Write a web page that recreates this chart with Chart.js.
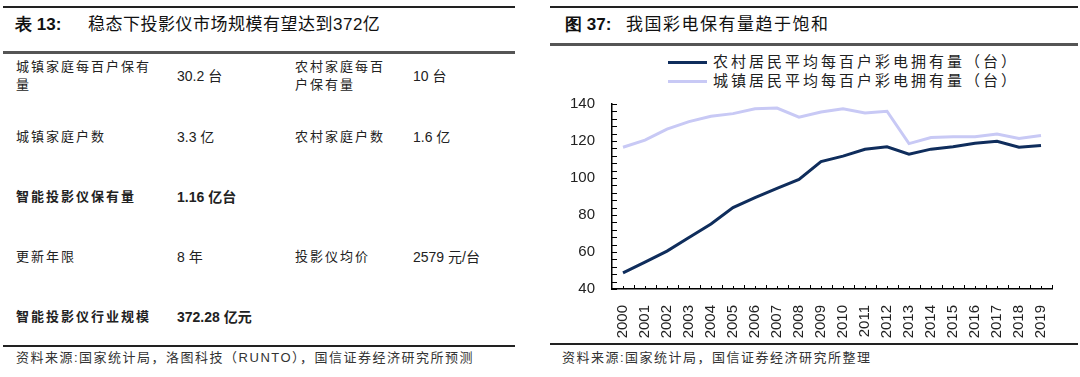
<!DOCTYPE html>
<html>
<head>
<meta charset="utf-8">
<script src="https://cdn.jsdelivr.net/npm/chart.js@4.4.1/dist/chart.umd.min.js"></script>
<style>
  html, body { margin: 0; padding: 0; background: #fff; }
  body { width: 1080px; height: 377px; position: relative; overflow: hidden;
         font-family: "Liberation Sans", Arial, "Noto Sans CJK SC", sans-serif; color: #222; }
  .abs { position: absolute; white-space: nowrap; }
  .rule { position: absolute; height: 2px; background: #222; }
  .rule.mid { background: #555; height: 3px; }
  .title { font-size: 17px; color: #111; line-height: 20px; }
  .title b { font-family: "Liberation Sans", Arial, sans-serif; font-size: 17px; }
  .cell { font-size: 13px; letter-spacing: 2px; line-height: 18px; }
  .num { font-size: 14px; letter-spacing: 0; line-height: 18px; }
  .bold { font-weight: bold; }
  .src { font-size: 13px; color: #333; letter-spacing: 1.5px; line-height: 16px; }
  .leg { font-size: 15px; letter-spacing: 3px; color: #222; line-height: 18px; }
  .legline { position: absolute; height: 3px; }
  #chart { position: absolute; left: 560px; top: 86px; }
</style>
</head>
<body>
<!-- left panel: table -->
<div class="rule" style="left:3px; top:6px; width:512px;"></div>
<div class="abs title" style="left:15px; top:15px;"><b>表 13:</b></div>
<div class="abs title" style="left:88px; top:15px; letter-spacing:0.5px;">稳态下投影仪市场规模有望达到372亿</div>
<div class="rule mid" style="left:3px; top:51px; width:512px;"></div>

<div class="abs cell" style="left:16px; top:58px;">城镇家庭每百户保有<br>量</div>
<div class="abs num" style="left:177px; top:67px;">30.2 台</div>
<div class="abs cell" style="left:295px; top:58px;">农村家庭每百<br>户保有量</div>
<div class="abs num" style="left:413px; top:67px;">10 台</div>

<div class="abs cell" style="left:16px; top:128px;">城镇家庭户数</div>
<div class="abs num" style="left:177px; top:128px;">3.3 亿</div>
<div class="abs cell" style="left:295px; top:128px;">农村家庭户数</div>
<div class="abs num" style="left:413px; top:128px;">1.6 亿</div>

<div class="abs cell bold" style="left:16px; top:188px;">智能投影仪保有量</div>
<div class="abs num bold" style="left:177px; top:188px;">1.16 亿台</div>

<div class="abs cell" style="left:16px; top:248px;">更新年限</div>
<div class="abs num" style="left:177px; top:248px;">8 年</div>
<div class="abs cell" style="left:295px; top:248px;">投影仪均价</div>
<div class="abs num" style="left:413px; top:248px;">2579 元/台</div>

<div class="abs cell bold" style="left:16px; top:308px;">智能投影仪行业规模</div>
<div class="abs num bold" style="left:177px; top:308px;">372.28 亿元</div>

<div class="rule" style="left:3px; top:345px; width:512px;"></div>
<div class="abs src" style="left:16px; top:350px;">资料来源:国家统计局，洛图科技（RUNTO），国信证券经济研究所预测</div>

<!-- right panel: chart -->
<div class="rule" style="left:550px; top:6px; width:528px;"></div>
<div class="abs title" style="left:565px; top:15px;"><b>图 37:</b></div>
<div class="abs title" style="left:626px; top:15px; letter-spacing:1.5px;">我国彩电保有量趋于饱和</div>
<div class="rule mid" style="left:550px; top:43px; width:528px;"></div>

<div class="legline" style="left:668px; top:61px; width:39px; background:#0f2d5c;"></div>
<div class="abs leg" style="left:713px; top:53px;">农村居民平均每百户彩电拥有量（台）</div>
<div class="legline" style="left:668px; top:80px; width:39px; background:#c8c9f5;"></div>
<div class="abs leg" style="left:713px; top:72px;">城镇居民平均每百户彩电拥有量（台）</div>

<canvas id="chart" width="515" height="256"></canvas>

<div class="rule" style="left:550px; top:343px; width:528px;"></div>
<div class="abs src" style="left:562px; top:350px;">资料来源:国家统计局，国信证券经济研究所整理</div>

<script>
const years = ['2000', '2001', '2002', '2003', '2004', '2005', '2006', '2007', '2008', '2009',
               '2010', '2011', '2012', '2013', '2014', '2015', '2016', '2017', '2018', '2019']
const ruralTv = [48.7, 54.5, 60.5, 67.8, 75.1, 84.0, 89.4, 94.4, 99.2, 108.9,
                 111.8, 115.5, 116.9, 112.9, 115.6, 116.9, 118.8, 119.9, 116.6, 117.6]
const urbanTv = [116.6, 120.5, 126.4, 130.5, 133.4, 134.8, 137.4, 137.8, 132.9, 135.7,
                 137.4, 135.2, 136.1, 118.6, 121.9, 122.3, 122.3, 123.8, 121.4, 123.0]
const yTicks = [40, 60, 80, 100, 120, 140]

const darkColor = '#0f2d5c'
const lightColor = '#c8c9f5'
const labelFont = { family: '"Liberation Sans", Arial, sans-serif', size: 15 }

// inward tick marks (minor every 4 on y, every half category on x)
const inwardTicks = {
  id: 'inwardTicks',
  afterDraw(chart) {
    const { ctx, scales: { x, y } } = chart
    ctx.save()
    ctx.strokeStyle = '#000'
    ctx.lineWidth = 1
    ctx.beginPath()
    for (let v = yTicks[0]; v <= yTicks[yTicks.length - 1]; v += 4) {
      const py = Math.round(y.getPixelForValue(v)) + 0.5
      ctx.moveTo(x.left, py)
      ctx.lineTo(x.left + 5, py)
    }
    const half = (x.getPixelForValue(1) - x.getPixelForValue(0)) / 2
    for (let i = 0; i < years.length; i++) {
      const c = x.getPixelForValue(i)
      const b = Math.round(c + half) + 0.5
      ctx.moveTo(b, y.bottom)
      ctx.lineTo(b, y.bottom - 4)
      const m = Math.round(c) + 0.5
      ctx.moveTo(m, y.bottom)
      ctx.lineTo(m, y.bottom - 3)
    }
    ctx.stroke()
    ctx.restore()
  }
}

new Chart(document.getElementById('chart'), {
  type: 'line',
  data: {
    labels: years,
    datasets: [
      { label: '城镇居民平均每百户彩电拥有量（台）', data: urbanTv, borderColor: lightColor, borderWidth: 3, pointRadius: 0, tension: 0 },
      { label: '农村居民平均每百户彩电拥有量（台）', data: ruralTv, borderColor: darkColor, borderWidth: 3, pointRadius: 0, tension: 0 }
    ]
  },
  options: {
    responsive: false,
    devicePixelRatio: 1,
    animation: false,
    layout: { padding: { top: 4, right: 23, left: 0, bottom: 0 } },
    plugins: { legend: { display: false }, tooltip: { enabled: false } },
    scales: {
      x: {
        offset: true,
        grid: { display: false },
        border: { display: true, color: '#000', width: 1.5 },
        ticks: { autoSkip: false, maxRotation: 90, minRotation: 90, font: labelFont, color: '#222', padding: 8 },
        afterFit: s => { s.height = 53 }
      },
      y: {
        min: 40,
        max: 140,
        grid: { display: false },
        border: { display: true, color: '#000', width: 1.5 },
        ticks: { stepSize: 20, font: labelFont, color: '#222', padding: 9 },
        afterFit: s => { s.width = 52 }
      }
    }
  },
  plugins: [inwardTicks]
})
</script>
</body>
</html>
